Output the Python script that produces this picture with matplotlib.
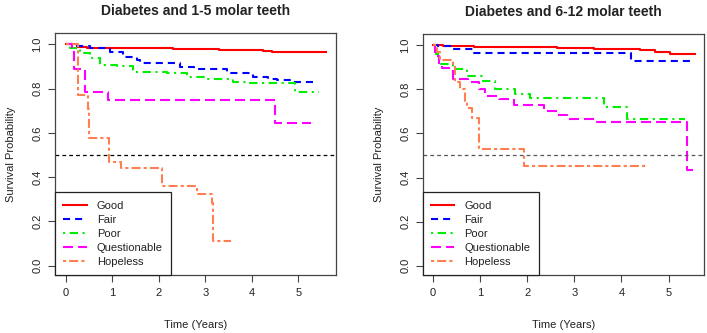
import matplotlib
matplotlib.use("Agg")
import matplotlib.pyplot as plt

plt.rcParams['font.family'] = ['Liberation Sans', 'DejaVu Sans']

groups = ["Good", "Fair", "Poor", "Questionable", "Hopeless"]
colors = ["#FF0000", "#0000FF", "#00EE00", "#FF00FF", "#FF7F50"]

# ---- Panel 1: Diabetes and 1-5 molar teeth ----
title1 = "Diabetes and 1-5 molar teeth"
good1_t = [0, 0.24, 0.45, 2.3, 3.3, 4.25, 4.43, 5.6]
good1_s = [1.0, 0.99, 0.985, 0.978, 0.973, 0.97, 0.967, 0.967]
fair1_t = [0, 0.24, 0.52, 0.95, 1.24, 1.53, 1.6, 2.46, 2.75, 3.46, 4.03, 4.35, 4.54, 4.82, 5.33]
fair1_s = [1.0, 0.994, 0.982, 0.967, 0.944, 0.93, 0.914, 0.899, 0.887, 0.869, 0.851, 0.845, 0.838, 0.831, 0.831]
poor1_t = [0, 0.1, 0.3, 0.52, 0.74, 1.1, 1.45, 2.17, 2.6, 3.03, 3.6, 3.9, 4.93, 5.45]
poor1_s = [1.0, 0.982, 0.96, 0.937, 0.907, 0.9, 0.877, 0.869, 0.852, 0.842, 0.831, 0.826, 0.786, 0.786]
ques1_t = [0, 0.13, 0.18, 0.42, 0.9, 4.5, 5.27]
ques1_s = [1.0, 0.974, 0.889, 0.786, 0.75, 0.646, 0.646]
hope1_t = [0, 0.27, 0.47, 0.51, 0.92, 1.19, 2.06, 2.83, 3.14, 3.16, 3.55]
hope1_s = [1.0, 0.77, 0.71, 0.575, 0.47, 0.44, 0.36, 0.322, 0.282, 0.113, 0.113]

# ---- Panel 2: Diabetes and 6-12 molar teeth ----
title2 = "Diabetes and 6-12 molar teeth"
good2_t = [0, 0.22, 0.86, 2.63, 3.41, 4.4, 4.72, 5.03, 5.57]
good2_s = [1.0, 0.997, 0.993, 0.989, 0.983, 0.977, 0.971, 0.959, 0.959]
fair2_t = [0, 0.1, 0.43, 0.86, 4.21, 5.53]
fair2_s = [1.0, 0.995, 0.983, 0.963, 0.93, 0.93]
poor2_t = [0, 0.06, 0.12, 0.43, 0.72, 1.05, 1.32, 1.74, 2.06, 3.62, 4.11, 5.35]
poor2_s = [1.0, 0.96, 0.915, 0.893, 0.861, 0.84, 0.801, 0.781, 0.759, 0.721, 0.666, 0.666]
ques2_t = [0, 0.05, 0.12, 0.2, 0.43, 0.75, 0.98, 1.1, 1.4, 1.71, 2.35, 2.63, 2.84, 3.48, 5.40, 5.57]
ques2_s = [1.0, 0.95, 0.915, 0.896, 0.848, 0.832, 0.8, 0.77, 0.758, 0.728, 0.703, 0.685, 0.665, 0.651, 0.432, 0.432]
hope2_t = [0, 0.08, 0.15, 0.43, 0.47, 0.57, 0.68, 0.72, 0.82, 0.97, 1.93, 4.54]
hope2_s = [1.0, 0.97, 0.935, 0.91, 0.835, 0.8, 0.745, 0.715, 0.67, 0.53, 0.452, 0.452]

xticks = [0, 1, 2, 3, 4, 5]
yticks = [0.0, 0.2, 0.4, 0.6, 0.8, 1.0]
ytick_labels = ["0.0", "0.2", "0.4", "0.6", "0.8", "1.0"]
xlabel = "Time (Years)"
ylabel = "Survival Probability"

lw = 1.5
dash_styles = [
    '-',
    (0, (3.4, 2.4)),
    (0, (1.0, 2.2, 4.0, 2.2)),
    (0, (4.8, 2.4)),
    (0, (1.5, 1.5, 4.3, 1.5)),
]

fig = plt.figure(figsize=(7.07, 3.33), dpi=100)
ax1 = fig.add_axes([55/707, 1-275/333, 281/707, 242/333])
ax2 = fig.add_axes([422.7/707, 1-275/333, 281.6/707, 241/333])

panels = [
    (ax1, title1, [(good1_t, good1_s), (fair1_t, fair1_s), (poor1_t, poor1_s),
                   (ques1_t, ques1_s), (hope1_t, hope1_s)], (-0.23, 5.81), "#000000"),
    (ax2, title2, [(good2_t, good2_s), (fair2_t, fair2_s), (poor2_t, poor2_s),
                   (ques2_t, ques2_s), (hope2_t, hope2_s)], (-0.22, 5.76), "#555555"),
]

txtc = "#222222"
for ax, title, series, xl, refc in panels:
    for (t, s), name, c, ls in zip(series, groups, colors, dash_styles):
        ax.step(t, s, where='post', color=c, lw=lw, linestyle=ls, label=name)
    ax.axhline(0.5, color=refc, lw=0.9, linestyle=(0, (3, 2.5)))
    ax.set_xlim(*xl)
    ax.set_ylim(-0.042, 1.051)
    ax.set_xticks(xticks)
    ax.set_xticklabels([str(x) for x in xticks])
    ax.set_yticks(yticks)
    ax.set_yticklabels(ytick_labels, rotation=90, va='center')
    ax.tick_params(axis='both', direction='out', length=5, width=0.8,
                   color="#444444", labelsize=8, labelcolor=txtc, pad=4)
    for sp in ax.spines.values():
        sp.set_color("#444444")
        sp.set_linewidth(0.9)
    ax.set_title(title, fontsize=10, fontweight='bold', color=txtc, pad=13)
    ax.set_xlabel(xlabel, fontsize=8, color=txtc, labelpad=16)
    ax.set_ylabel(ylabel, fontsize=8, color=txtc, labelpad=12)
    leg = ax.legend(loc='lower left', borderaxespad=0, fancybox=False,
                    edgecolor="#222222", framealpha=1, fontsize=8,
                    handlelength=2.1, handletextpad=0.9, labelspacing=0.36,
                    borderpad=0.75)
    leg.get_frame().set_linewidth(0.9)
    for txt in leg.get_texts():
        txt.set_color(txtc)

fig.savefig("out.png", dpi=100)
